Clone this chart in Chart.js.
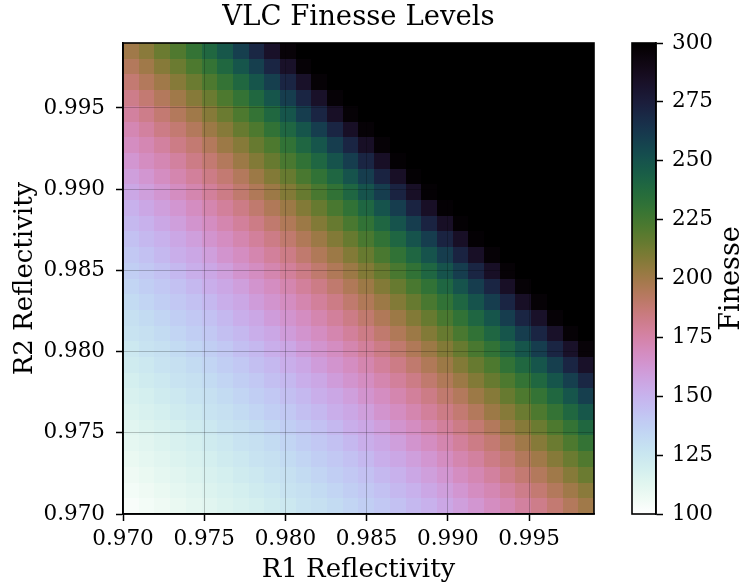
<!DOCTYPE html>
<html>
<head>
<meta charset="utf-8">
<title>VLC Finesse Levels</title>
<script src="https://cdn.jsdelivr.net/npm/chart.js@4.4.1/dist/chart.umd.min.js"></script>
<style>
  html, body { margin: 0; padding: 0; background: #fff; }
  #wrap { position: relative; width: 743px; height: 583px; }
  #wrap canvas { position: absolute; left: 0; top: 0; }
</style>
</head>
<body>
<div id="wrap">
  <canvas id="chartFinesse" width="743" height="583"></canvas>
  <canvas id="chartColorbar" width="743" height="583"></canvas>
</div>
<script>
// R1 (x) e R2 (y): 30 passos de 0.001
const r1Values = [0.970, 0.971, 0.972, 0.973, 0.974, 0.975, 0.976, 0.977, 0.978, 0.979,
  0.980, 0.981, 0.982, 0.983, 0.984, 0.985, 0.986, 0.987, 0.988, 0.989,
  0.990, 0.991, 0.992, 0.993, 0.994, 0.995, 0.996, 0.997, 0.998, 0.999];
const r2Values = [0.970, 0.971, 0.972, 0.973, 0.974, 0.975, 0.976, 0.977, 0.978, 0.979,
  0.980, 0.981, 0.982, 0.983, 0.984, 0.985, 0.986, 0.987, 0.988, 0.989,
  0.990, 0.991, 0.992, 0.993, 0.994, 0.995, 0.996, 0.997, 0.998, 0.999];

// finesse, uma linha por R2 (de 0.970 ate 0.999); 300 = saturado
const finesse = [
  [103,105,107,109,111,113,115,117,119,122,124,127,129,132,135,138,141,144,148,151,155,159,163,168,172,177,182,188,194,200],
  [105,107,109,111,113,115,117,119,122,124,127,129,132,135,138,141,144,148,151,155,159,163,168,172,177,182,188,194,200,206],
  [107,109,111,113,115,117,119,122,124,127,129,132,135,138,141,144,148,151,155,159,163,168,172,177,183,188,194,200,207,214],
  [109,111,113,115,117,119,122,124,127,129,132,135,138,141,144,148,152,155,159,163,168,173,177,183,188,194,200,207,214,221],
  [111,113,115,117,119,122,124,127,129,132,135,138,141,144,148,152,155,159,164,168,173,178,183,188,194,200,207,214,222,230],
  [113,115,117,119,122,124,127,129,132,135,138,141,144,148,152,155,159,164,168,173,178,183,188,194,201,207,214,222,230,239],
  [115,117,119,122,124,127,129,132,135,138,141,145,148,152,155,159,164,168,173,178,183,188,194,201,207,214,222,230,239,248],
  [117,119,122,124,127,129,132,135,138,141,145,148,152,155,159,164,168,173,178,183,189,194,201,207,215,222,230,239,249,259],
  [119,122,124,127,129,132,135,138,141,145,148,152,155,160,164,168,173,178,183,189,195,201,208,215,222,230,239,249,259,270],
  [122,124,127,129,132,135,138,141,145,148,152,155,160,164,168,173,178,183,189,195,201,208,215,222,231,239,249,259,271,283],
  [124,127,129,132,135,138,141,145,148,152,155,160,164,168,173,178,183,189,195,201,208,215,223,231,240,249,260,271,283,296],
  [127,129,132,135,138,141,145,148,152,155,160,164,168,173,178,183,189,195,201,208,215,223,231,240,249,260,271,283,297,300],
  [129,132,135,138,141,144,148,152,155,160,164,168,173,178,183,189,195,201,208,215,223,231,240,249,260,271,283,297,300,300],
  [132,135,138,141,144,148,152,155,160,164,168,173,178,183,189,195,201,208,215,223,231,240,250,260,271,284,297,300,300,300],
  [135,138,141,144,148,152,155,159,164,168,173,178,183,189,195,201,208,215,223,231,240,250,260,271,284,297,300,300,300,300],
  [138,141,144,148,152,155,159,164,168,173,178,183,189,195,201,208,215,223,231,240,250,260,271,284,297,300,300,300,300,300],
  [141,144,148,152,155,159,164,168,173,178,183,189,195,201,208,215,223,231,240,250,260,272,284,297,300,300,300,300,300,300],
  [144,148,151,155,159,164,168,173,178,183,189,195,201,208,215,223,231,240,250,260,272,284,298,300,300,300,300,300,300,300],
  [148,151,155,159,164,168,173,178,183,189,195,201,208,215,223,231,240,250,260,272,284,298,300,300,300,300,300,300,300,300],
  [151,155,159,163,168,173,178,183,189,195,201,208,215,223,231,240,250,260,272,284,298,300,300,300,300,300,300,300,300,300],
  [155,159,163,168,173,178,183,189,195,201,208,215,223,231,240,250,260,272,284,298,300,300,300,300,300,300,300,300,300,300],
  [159,163,168,173,178,183,188,194,201,208,215,223,231,240,250,260,272,284,298,300,300,300,300,300,300,300,300,300,300,300],
  [163,168,172,177,183,188,194,201,208,215,223,231,240,250,260,271,284,298,300,300,300,300,300,300,300,300,300,300,300,300],
  [168,172,177,183,188,194,201,207,215,222,231,240,249,260,271,284,297,300,300,300,300,300,300,300,300,300,300,300,300,300],
  [172,177,183,188,194,201,207,215,222,231,240,249,260,271,284,297,300,300,300,300,300,300,300,300,300,300,300,300,300,300],
  [177,182,188,194,200,207,214,222,230,239,249,260,271,284,297,300,300,300,300,300,300,300,300,300,300,300,300,300,300,300],
  [182,188,194,200,207,214,222,230,239,249,260,271,283,297,300,300,300,300,300,300,300,300,300,300,300,300,300,300,300,300],
  [188,194,200,207,214,222,230,239,249,259,271,283,297,300,300,300,300,300,300,300,300,300,300,300,300,300,300,300,300,300],
  [194,200,207,214,222,230,239,249,259,271,283,297,300,300,300,300,300,300,300,300,300,300,300,300,300,300,300,300,300,300],
  [200,206,214,221,230,239,248,259,270,283,296,300,300,300,300,300,300,300,300,300,300,300,300,300,300,300,300,300,300,300],
];

const tickValues = [0.970, 0.975, 0.980, 0.985, 0.990, 0.995];
const colorbarTicks = [100, 125, 150, 175, 200, 225, 250, 275, 300];
const finesseMin = 100;
const finesseMax = 300;

Chart.defaults.font.family = "'DejaVu Serif', serif";
Chart.defaults.color = "#000";

// cubehelix invertido (igual ao do matplotlib)
function corFinesse(valor) {
  let t = (valor - finesseMin) / (finesseMax - finesseMin);
  t = Math.min(1, Math.max(0, t));
  const x = 1 - t;
  const amp = (x * (1 - x)) / 2;
  const phi = 2 * Math.PI * (0.5 / 3 - 1.5 * x);
  const c = Math.cos(phi);
  const s = Math.sin(phi);
  const canal = (v) => Math.round(255 * Math.min(1, Math.max(0, v)));
  const r = canal(x + amp * (-0.14861 * c + 1.78277 * s));
  const g = canal(x + amp * (-0.29227 * c - 0.90649 * s));
  const b = canal(x + amp * (1.97294 * c));
  return `rgb(${r}, ${g}, ${b})`;
}

const heatmapPlugin = {
  id: "heatmap",
  beforeDatasetsDraw(chart) {
    const { ctx, scales } = chart;
    const nx = r1Values.length;
    const ny = r2Values.length;
    const passoX = (r1Values[nx - 1] - r1Values[0]) / nx;
    const passoY = (r2Values[ny - 1] - r2Values[0]) / ny;
    ctx.save();
    finesse.forEach((linha, j) => {
      linha.forEach((v, i) => {
        const left = Math.round(scales.x.getPixelForValue(r1Values[0] + i * passoX));
        const right = Math.round(scales.x.getPixelForValue(r1Values[0] + (i + 1) * passoX));
        const top = Math.round(scales.y.getPixelForValue(r2Values[0] + (j + 1) * passoY));
        const bottom = Math.round(scales.y.getPixelForValue(r2Values[0] + j * passoY));
        ctx.fillStyle = corFinesse(v);
        ctx.fillRect(left, top, right - left, bottom - top);
      });
    });
    ctx.restore();
  },
  afterDraw(chart) {
    const { ctx, chartArea } = chart;
    ctx.save();
    ctx.strokeStyle = "#000";
    ctx.lineWidth = 1.6;
    ctx.strokeRect(chartArea.left, chartArea.top, chartArea.right - chartArea.left, chartArea.bottom - chartArea.top);
    ctx.restore();
  },
};

const colorbarPlugin = {
  id: "colorbar",
  beforeDatasetsDraw(chart) {
    const { ctx, chartArea, scales } = chart;
    const y0 = scales.y.getPixelForValue(finesseMin);
    const y1 = scales.y.getPixelForValue(finesseMax);
    const grad = ctx.createLinearGradient(0, y0, 0, y1);
    for (let k = 0; k <= 64; k++) {
      grad.addColorStop(k / 64, corFinesse(finesseMin + ((finesseMax - finesseMin) * k) / 64));
    }
    ctx.save();
    ctx.fillStyle = grad;
    ctx.fillRect(chartArea.left, y1, chartArea.right - chartArea.left, y0 - y1);
    ctx.restore();
  },
  afterDraw(chart) {
    const { ctx, chartArea } = chart;
    ctx.save();
    ctx.strokeStyle = "#000";
    ctx.lineWidth = 1.6;
    ctx.strokeRect(chartArea.left, chartArea.top, chartArea.right - chartArea.left, chartArea.bottom - chartArea.top);
    // rotulo da barra de cores
    ctx.fillStyle = "#000";
    ctx.font = "27px 'DejaVu Serif'";
    ctx.textAlign = "center";
    ctx.textBaseline = "middle";
    ctx.translate(732, (chartArea.top + chartArea.bottom) / 2);
    ctx.rotate(-Math.PI / 2);
    ctx.fillText("Finesse", 0, 0);
    ctx.restore();
  },
};

const fonteTicks = { size: 21.5 };

new Chart(document.getElementById("chartFinesse"), {
  type: "scatter",
  data: { datasets: [] },
  plugins: [heatmapPlugin],
  options: {
    responsive: false,
    animation: false,
    layout: { padding: { left: 0, right: 149, top: 0, bottom: 0 } },
    plugins: {
      legend: { display: false },
      tooltip: { enabled: false },
      title: {
        display: true,
        text: "VLC Finesse Levels",
        fullSize: false,
        color: "#000",
        font: { size: 27.5, weight: "normal", lineHeight: 1 },
        padding: { top: 4, bottom: 11.5 },
      },
    },
    scales: {
      x: {
        type: "linear",
        min: r1Values[0],
        max: r1Values[r1Values.length - 1],
        afterBuildTicks: (s) => {
          s.ticks = tickValues.map((v) => ({ value: v }));
        },
        afterFit: (s) => {
          s.height = 69;
        },
        ticks: {
          font: fonteTicks,
          padding: 6,
          maxRotation: 0,
          autoSkip: false,
          callback: (v) => Number(v).toFixed(3),
        },
        grid: { color: "rgba(0,0,0,0.22)", lineWidth: 1, tickLength: 7, tickColor: "#000", tickWidth: 1.5, z: 1 },
        border: { color: "#000", width: 1.6, z: 2 },
        title: {
          display: true,
          text: "R1 Reflectivity",
          font: { size: 26, lineHeight: 1 },
          padding: { top: 0, bottom: 0 },
        },
      },
      y: {
        type: "linear",
        min: r2Values[0],
        max: r2Values[r2Values.length - 1],
        afterBuildTicks: (s) => {
          s.ticks = tickValues.map((v) => ({ value: v }));
        },
        afterFit: (s) => {
          s.width = 123;
        },
        ticks: {
          font: fonteTicks,
          padding: 11,
          autoSkip: false,
          callback: (v) => Number(v).toFixed(3),
        },
        grid: { color: "rgba(0,0,0,0.22)", lineWidth: 1, tickLength: 7, tickColor: "#000", tickWidth: 1.5, z: 1 },
        border: { color: "#000", width: 1.6, z: 2 },
        title: {
          display: true,
          text: "R2 Reflectivity",
          font: { size: 26, lineHeight: 1 },
          padding: { top: 12, bottom: 0 },
        },
      },
    },
  },
});

new Chart(document.getElementById("chartColorbar"), {
  type: "scatter",
  data: { datasets: [] },
  plugins: [colorbarPlugin],
  options: {
    responsive: false,
    animation: false,
    layout: { padding: { left: 632, right: 0, top: 43, bottom: 69 } },
    plugins: { legend: { display: false }, tooltip: { enabled: false } },
    scales: {
      x: { display: false, min: 0, max: 1 },
      y: {
        position: "right",
        min: finesseMin,
        max: finesseMax,
        afterBuildTicks: (s) => {
          s.ticks = colorbarTicks.map((v) => ({ value: v }));
        },
        afterFit: (s) => {
          s.width = 87;
        },
        ticks: { font: fonteTicks, padding: 9, autoSkip: false },
        grid: { drawOnChartArea: false, tickLength: 7, tickColor: "#000", tickWidth: 1.5, z: 1 },
        border: { color: "#000", width: 1.6, z: 2 },
      },
    },
  },
});
</script>
</body>
</html>
